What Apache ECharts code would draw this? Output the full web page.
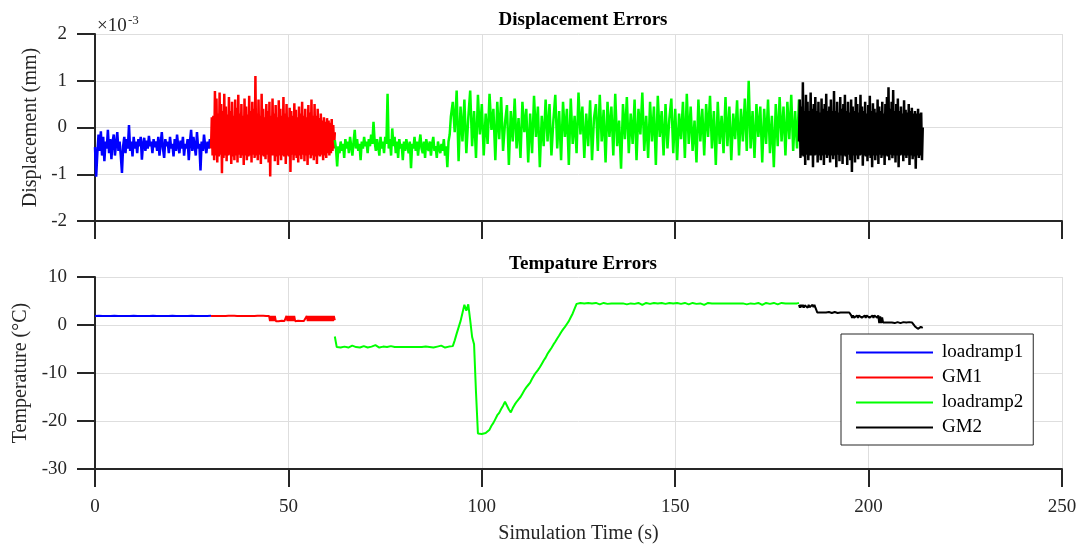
<!DOCTYPE html>
<html>
<head>
<meta charset="utf-8">
<script src="https://cdn.jsdelivr.net/npm/echarts@6/dist/echarts.min.js"></script>
<style>html,body{margin:0;padding:0;background:#fff}#c{width:1083px;height:546px}</style>
</head>
<body>
<div id="c"></div>
<script>
// ---------- tick labels ----------
const xTicks = [0, 50, 100, 150, 200, 250];
const dispTicks = [-2, -1, 0, 1, 2];          // ×10^-3 mm
const tempTicks = [-30, -20, -10, 0, 10];      // °C
const seriesNames = ['loadramp1', 'GM1', 'loadramp2', 'GM2'];

// ---------- time spans of each segment (s) ----------
const spanLoadramp1 = [0, 30];
const spanGM1 = [30, 62];
const spanLoadramp2a = [62, 92];
const spanLoadramp2b = [92.5, 182];
const spanLoadramp2 = [62, 182];
const spanGM2 = [182, 214];

// ---------- displacement errors (×10^-3 mm), evenly sampled over each span ----------
const dispLoadramp1 = [-0.42,-1.05,-0.55,-0.15,-0.50,-0.08,-0.60,-0.20,-0.72,-0.30,
-0.45,-0.05,-0.55,-0.25,-0.68,-0.30,-0.15,-0.60,-0.35,-0.10,
-0.50,-0.30,-0.60,-0.97,-0.40,-0.20,-0.55,-0.25,-0.45,0.05,
-0.50,-0.30,-0.62,-0.20,-0.45,-0.30,-0.55,-0.25,-0.40,-0.20,
-0.69,-0.35,-0.22,-0.50,-0.28,-0.45,-0.18,-0.40,-0.30,-0.55,
-0.25,-0.42,-0.30,-0.50,-0.20,-0.60,-0.35,-0.10,-0.45,-0.65,
-0.25,-0.40,-0.30,-0.55,-0.20,-0.45,-0.35,-0.62,-0.25,-0.50,
-0.15,-0.40,-0.55,-0.28,-0.45,-0.20,-0.60,-0.35,-0.45,-0.25,
-0.70,-0.30,-0.05,-0.50,-0.20,-0.40,-0.60,-0.10,-0.45,-0.35,
-0.92,-0.30,-0.50,-0.15,-0.40,-0.55,-0.30,-0.45,-0.25,-0.35];

const dispGM1 = [-0.45,0.22,-0.6,0.25,-0.7,0.78,-0.6,0.62,-0.75,0.3,
-0.62,0.75,-0.58,0.5,-0.98,0.35,-0.65,0.72,-0.6,0.45,
-0.72,0.28,-0.6,0.65,-0.58,0.35,-0.78,0.55,-0.62,0.25,
-0.7,0.6,-0.6,0.42,-0.75,0.7,-0.58,0.3,-0.65,0.5,
-0.6,0.25,-0.8,0.62,-0.6,0.45,-0.7,0.28,-0.62,0.68,
-0.6,0.35,-0.75,0.55,-0.58,0.4,-0.65,1.1,-0.6,0.3,
-0.7,0.6,-0.58,0.25,-0.78,0.72,-0.6,0.4,-0.62,0.22,
-0.68,0.5,-0.58,0.35,-0.75,0.55,-1.05,0.25,-0.6,0.62,
-0.6,0.3,-0.72,0.48,-0.62,0.22,-0.8,0.58,-0.6,0.4,
-0.7,0.25,-0.6,0.65,-0.62,0.3,-0.78,0.5,-0.6,0.22,
-0.62,0.42,-0.95,0.35,-0.58,0.25,-0.7,0.52,-0.6,0.38,
-0.65,0.22,-0.75,0.45,-0.6,0.3,-0.68,0.55,-0.58,0.25,
-0.72,0.4,-0.6,0.22,-0.8,0.48,-0.58,0.32,-0.66,0.6,
-0.6,0.25,-0.7,0.5,-0.62,0.25,-0.78,0.4,-0.6,0.2,
-0.62,0.3,-0.58,0.15,-0.7,0.22,-0.6,0.12,-0.65,0.2,
-0.55,0.15,-0.6,0.1,-0.55,0.18,-0.5,0.05,-0.45,-0.1];

const dispLoadramp2a = [-0.27,-0.45,-0.83,-0.40,-0.55,-0.30,-0.50,-0.35,-0.65,-0.25,
-0.45,-0.30,-0.55,-0.20,-0.40,-0.60,-0.30,-0.05,-0.45,-0.25,
-0.50,-0.35,-0.70,-0.30,-0.45,-0.20,-0.40,-0.30,-0.55,-0.25,
-0.40,-0.15,-0.35,0.12,-0.30,-0.50,-0.25,-0.40,-0.60,-0.20,
-0.45,-0.30,-0.55,-0.20,-0.35,0.72,-0.45,-0.25,-0.60,-0.02,
-0.40,-0.20,-0.55,-0.30,-0.65,-0.25,-0.45,-0.35,-0.70,-0.30,
-0.50,-0.25,-0.40,-0.55,-0.30,-0.87,-0.35,-0.45,-0.20,-0.50,
-0.30,-0.60,-0.35,-0.15,-0.45,-0.55,-0.30,-0.65,-0.25,-0.40,
-0.50,-0.30,-0.60,-0.35,-0.20,-0.50,-0.40,-0.65,-0.30,-0.45,
-0.55,-0.35,-0.50,-0.25,-0.60,-0.40,-0.85,-0.30,-0.15,0.23];

const dispLoadramp2b = [0.55,-0.10,0.79,-0.72,0.45,-0.30,0.60,-0.55,0.20,0.79,
-0.40,0.35,-0.65,0.70,-0.15,0.50,-0.60,0.30,-0.35,0.72,
-0.05,0.40,-0.70,0.55,-0.25,0.65,-0.50,0.10,0.48,-0.80,
0.35,-0.30,0.62,-0.45,0.20,-0.65,0.55,-0.10,0.40,-0.75,
0.30,-0.55,0.68,-0.20,0.45,-0.85,0.25,-0.40,0.60,-0.30,
0.50,-0.60,0.15,0.70,-0.45,0.35,-0.70,0.55,-0.20,0.40,
-0.80,0.62,-0.35,0.25,-0.55,0.75,-0.15,0.45,-0.65,0.30,
-0.40,0.58,-0.70,0.20,0.50,-0.50,0.70,-0.30,0.38,-0.75,
0.55,-0.20,0.45,-0.60,0.72,-0.40,0.15,-0.88,0.50,-0.25,
0.65,-0.55,0.30,-0.35,0.60,-0.70,0.40,-0.15,0.75,-0.50,
0.25,-0.65,0.55,-0.30,0.45,-0.80,0.68,-0.20,0.35,-0.60,
0.50,-0.45,0.20,0.62,-0.55,0.40,-0.70,0.30,-0.25,0.55,
-0.65,0.72,-0.35,0.45,-0.50,0.15,-0.75,0.60,-0.30,0.40,
-0.60,0.50,-0.20,0.68,-0.45,0.35,-0.80,0.55,-0.35,0.25,
-0.55,0.65,-0.40,0.45,-0.70,0.30,-0.25,0.58,-0.60,0.40,
-0.30,0.62,-0.50,1.00,-0.45,0.35,-0.65,0.50,-0.20,0.45,
-0.75,0.40,-0.35,0.60,-0.55,0.25,-0.85,0.50,-0.40,0.65,
-0.30,0.45,-0.60,0.55,-0.25,0.70,-0.50,0.35,-0.45,0.60];

const dispGM2 = [-0.3,0.6,-0.65,0.45,-0.6,0.97,-0.62,0.35,-0.8,0.7,
-0.58,0.55,-0.7,0.35,-0.6,0.75,-0.6,0.4,-0.85,0.5,
-0.6,0.65,-0.58,0.35,-0.75,0.55,-0.6,0.32,-0.7,0.62,
-0.6,0.4,-0.8,0.5,-0.58,0.72,-0.65,0.35,-0.6,0.45,
-0.75,0.6,-0.6,0.35,-0.68,0.78,-0.6,0.35,-0.85,0.55,
-0.58,0.32,-0.72,0.65,-0.6,0.4,-0.78,0.5,-0.6,0.7,
-0.62,0.35,-0.8,0.55,-0.58,0.32,-0.7,0.6,-0.95,0.45,
-0.6,0.35,-0.75,0.65,-0.6,0.5,-0.68,0.32,-0.6,0.7,
-0.58,0.45,-0.82,0.35,-0.6,0.55,-0.62,0.3,-0.72,0.48,
-0.6,0.68,-0.65,0.35,-0.85,0.52,-0.6,0.4,-0.7,0.32,
-0.6,0.6,-0.78,0.45,-0.58,0.35,-0.65,0.55,-0.6,0.3,
-0.8,0.5,-0.6,0.65,-0.62,0.86,-0.7,0.4,-0.58,0.55,
-0.66,0.8,-0.6,0.35,-0.75,0.5,-0.6,0.62,-0.85,0.35,
-0.6,0.45,-0.58,0.3,-0.72,0.58,-0.6,0.38,-0.65,0.32,
-0.6,0.5,-0.8,0.35,-0.6,0.42,-0.68,0.3,-0.62,0.35,
-0.88,0.3,-0.6,0.4,-0.65,0.3,-0.6,0.32,-0.7,0.0];

// ---------- temperature errors (°C), evenly sampled over each span ----------
const tempLoadramp1 = [1.9,1.95,1.9,1.85,1.9,1.95,1.9,1.9,1.85,1.9,1.95,1.9,1.9,1.85,1.9,1.95,
1.9,1.9,1.85,1.9,1.95,1.9,1.9,1.85,1.9,1.95,1.9,1.9,1.85,1.9,1.95];

const tempGM1 = [1.9,1.95,1.85,1.9,1.95,1.9,1.85,1.9,1.95,1.9,
1.9,1.95,1.85,1.9,1.95,1.9,1.85,1.9,1.95,1.9,
1.9,1.95,1.85,1.9,1.95,1.9,1.85,1.9,1.95,1.9,
1.9,1.95,1.85,1.9,1.95,1.9,1.85,1.9,1.95,1.9,
1.9,1.95,1.85,1.9,1.95,1.9,1.85,1.9,1.95,1.9,
1.9,1.95,1.85,1.9,1.95,1.9,1.85,1.9,1.95,1.9,
1.9,0.8,1.9,0.8,1.9,0.8,1.9,0.8,
0.85,0.9,0.8,0.85,0.85,0.9,0.8,0.85,0.85,0.8,
1.9,0.8,1.9,0.8,1.9,0.8,1.9,0.8,1.9,0.8,
0.85,0.85,0.9,0.8,0.85,0.85,0.9,0.8,0.85,0.85,0.8,
1.9,0.8,1.9,0.8,1.9,0.8,1.9,0.8,1.9,0.8,1.9,0.8,1.9,0.8,1.9,0.8,1.9,0.8,1.9,0.8,
1.9,0.8,1.9,0.8,1.9,0.8,1.9,0.8,1.9,
1.0];

const tempLoadramp2 = [-2.4,-4.6,-4.8,
-4.7,-4.6,-4.5,-4.6,-4.7,-4.5,-4.3,-4.6,-4.6,-4.5,
-4.7,-4.6,-4.4,-4.6,-4.7,-4.6,-4.5,-4.6,-4.2,-4.6,
-4.7,-4.6,-4.5,-4.7,-4.6,-4.6,-4.4,-4.7,-4.6,-4.5,
-4.6,-4.3,-4.6,-4.7,-4.6,-4.5,-4.6,-4.7,-4.6,-4.4,
-4.6,-4.2,-4.6,-4.7,-4.5,-4.6,-4.6,-4.4,-4.7,-4.6,
-4.5,-4.6,-4.3,-4.6,-4.7,-4.6,-4.5,-4.6,
-4.4,-3.2,-1.8,-0.5,0.8,2.5,4.2,3.0,4.3,1.0,
-2.5,-4.0,-14.0,-22.6,-23.0,-22.7,-23.0,-22.5,-22.3,-21.8,
-21.0,-20.4,-19.6,-18.8,-18.3,-17.5,-16.8,-16.0,-16.3,-17.6,
-18.2,-17.3,-16.6,-16.0,-15.5,-15.0,-14.3,-13.6,-13.0,-12.5,
-12.0,-11.2,-10.5,-9.9,-9.4,-8.8,-8.1,-7.4,-6.8,-6.0,
-5.4,-4.8,-4.1,-3.5,-2.8,-2.2,-1.5,-0.9,-0.4,0.2,
0.8,1.6,2.4,3.4,4.4,
4.5,4.6,4.4,4.5,4.2,4.6,4.5,4.5,4.4,4.6,
4.5,4.3,4.5,4.6,4.5,4.4,4.6,4.5,4.2,4.5,
4.6,4.5,4.4,4.5,4.6,4.3,4.5,4.5,4.6,4.4,
4.5,4.6,4.5,4.2,4.5,4.6,4.5,4.4,4.5,4.6,
4.5,4.5,4.3,4.6,4.5,4.4,4.5,4.6,4.5,4.5,
4.2,4.6,4.5,4.4,4.5,4.6,4.5,4.3,4.5,4.6,
4.5,4.4,4.6,4.5,4.5,4.2,4.5,4.6,4.4,4.5,
4.6,4.5,4.3,4.5,4.6,4.5,4.4,4.5,4.6,4.5,
4.2,4.5,4.6,4.5,4.4,4.5,4.6,4.3,4.5,4.5,
4.6,4.4,4.5,4.6,4.5,4.2,4.5,4.6,4.5,4.4,
4.5,4.6,4.5,4.3,4.5,4.6,4.4,4.5,4.6,4.5,
4.4,4.5,4.6,4.5,4.6];

const tempGM2 = [4.2,3.6,4.2,3.7,4.2,3.6,4.1,3.7,4.2,3.6,4.2,3.7,4.1,3.6,4.2,3.7,4.2,3.6,4.0,
2.6,2.6,2.7,2.6,2.5,2.6,2.6,2.7,2.6,2.6,2.5,2.6,2.7,2.6,2.6,2.5,2.6,2.6,2.7,2.6,
2.6,2.5,2.6,2.7,2.6,2.6,2.5,2.6,2.6,2.7,2.6,2.5,2.6,2.6,2.6,
2.0,1.5,2.0,1.5,1.9,1.5,2.0,1.5,2.0,1.6,2.0,1.5,1.9,1.5,2.0,1.5,2.0,1.6,2.0,1.5,
1.9,1.5,2.0,1.5,2.0,1.6,2.0,1.5,2.0,
0.4,1.8,0.4,1.6,
0.5,0.5,0.4,0.5,0.6,0.5,0.5,0.4,0.5,0.5,0.6,0.5,0.4,0.5,0.5,0.6,0.5,0.5,0.4,0.5,
0.5,0.6,0.5,0.4,0.5,0.5,0.5,0.6,0.5,0.4,0.5,0.5,0.5,
-0.3,-0.7,-0.4,-0.8,-0.5,-0.7,-0.4,-0.8,-0.6];

// ---------- build [t, value] pairs ----------
function sampled(values, span) {
  const n = values.length;
  return values.map((v, i) => [span[0] + (span[1] - span[0]) * i / (n - 1), v]);
}

const FONT = '"Liberation Serif", "Times New Roman", serif';
const AX = '#262626';
const GRID = '#dedede';
const colors = {loadramp1: '#0000ff', GM1: '#ff0000', loadramp2: '#00ff00', GM2: '#000000'};

function mkSeries(name, data, idx, w) {
  return {
    type: 'line', name: name, data: data,
    xAxisIndex: idx, yAxisIndex: idx,
    symbol: 'none', showSymbol: false,
    lineStyle: {color: colors[name], width: w},
    itemStyle: {color: colors[name]},
    emphasis: {disabled: true},
    animation: false
  };
}

function xAx(idx, showLabels) {
  return {
    type: 'value', gridIndex: idx,
    min: xTicks[0], max: xTicks[xTicks.length - 1], interval: xTicks[1] - xTicks[0],
    axisLine: {onZero: false, lineStyle: {color: AX, width: 2}},
    axisTick: {show: true, inside: false, length: 18, lineStyle: {color: AX, width: 2}},
    axisLabel: {show: showLabels, margin: 29, color: AX, fontFamily: FONT, fontSize: 19},
    splitLine: {show: true, lineStyle: {color: GRID, width: 1}},
    name: showLabels ? 'Simulation Time (s)' : '',
    nameLocation: 'middle', nameGap: 55,
    nameTextStyle: {color: AX, fontFamily: FONT, fontSize: 20}
  };
}

function yAx(idx, ticks, name, gap) {
  return {
    type: 'value', gridIndex: idx,
    min: ticks[0], max: ticks[ticks.length - 1], interval: ticks[1] - ticks[0],
    axisLine: {show: true, onZero: false, lineStyle: {color: AX, width: 2}},
    axisTick: {show: true, inside: false, length: 18, lineStyle: {color: AX, width: 2}},
    axisLabel: {margin: 28, color: AX, fontFamily: FONT, fontSize: 19},
    splitLine: {show: true, lineStyle: {color: GRID, width: 1}},
    name: name, nameLocation: 'middle', nameGap: gap, nameRotate: 90,
    nameTextStyle: {color: AX, fontFamily: FONT, fontSize: 20}
  };
}

const chart = echarts.init(document.getElementById('c'), null, {renderer: 'canvas'});
chart.setOption({
  backgroundColor: '#fff',
  animation: false,
  title: [
    {text: 'Displacement Errors', left: 578, top: 6, textAlign: 'center',
     textStyle: {fontFamily: FONT, fontSize: 19, fontWeight: 'bold', color: '#000'}},
    {text: 'Tempature Errors', left: 578, top: 250, textAlign: 'center',
     textStyle: {fontFamily: FONT, fontSize: 19, fontWeight: 'bold', color: '#000'}}
  ],
  grid: [
    {left: 95, right: 21, top: 34, height: 187},
    {left: 95, right: 21, top: 277, height: 192}
  ],
  xAxis: [xAx(0, false), xAx(1, true)],
  yAxis: [yAx(0, dispTicks, 'Displacement (mm)', 52), yAx(1, tempTicks, 'Temperature (°C)', 63)],
  legend: {
    data: seriesNames, orient: 'vertical', left: 841, top: 334,
    icon: 'rect', padding: [6, 10, 5, 15], itemWidth: 77, itemHeight: 2, itemGap: 0,
    borderColor: AX, borderWidth: 1, backgroundColor: '#fff',
    textStyle: {fontFamily: FONT, fontSize: 19, color: '#000', lineHeight: 25, padding: [0, 0, 0, 4]},
    selectedMode: false
  },
  graphic: [
    {type: 'text', left: 97, top: 17, style: {text: '×10', font: '19px ' + FONT, fill: AX}},
    {type: 'text', left: 128, top: 14, style: {text: '-3', font: '13px ' + FONT, fill: AX}}
  ],
  series: [
    mkSeries('loadramp1', sampled(dispLoadramp1, spanLoadramp1), 0, 2.5),
    mkSeries('GM1', sampled(dispGM1, spanGM1), 0, 2.5),
    mkSeries('loadramp2', sampled(dispLoadramp2a, spanLoadramp2a).concat(sampled(dispLoadramp2b, spanLoadramp2b)), 0, 2.5),
    mkSeries('GM2', sampled(dispGM2, spanGM2), 0, 2.5),
    mkSeries('loadramp1', sampled(tempLoadramp1, spanLoadramp1), 1, 2),
    mkSeries('GM1', sampled(tempGM1, spanGM1), 1, 2),
    mkSeries('loadramp2', sampled(tempLoadramp2, spanLoadramp2), 1, 2),
    mkSeries('GM2', sampled(tempGM2, spanGM2), 1, 2)
  ]
});
</script>
</body>
</html>
